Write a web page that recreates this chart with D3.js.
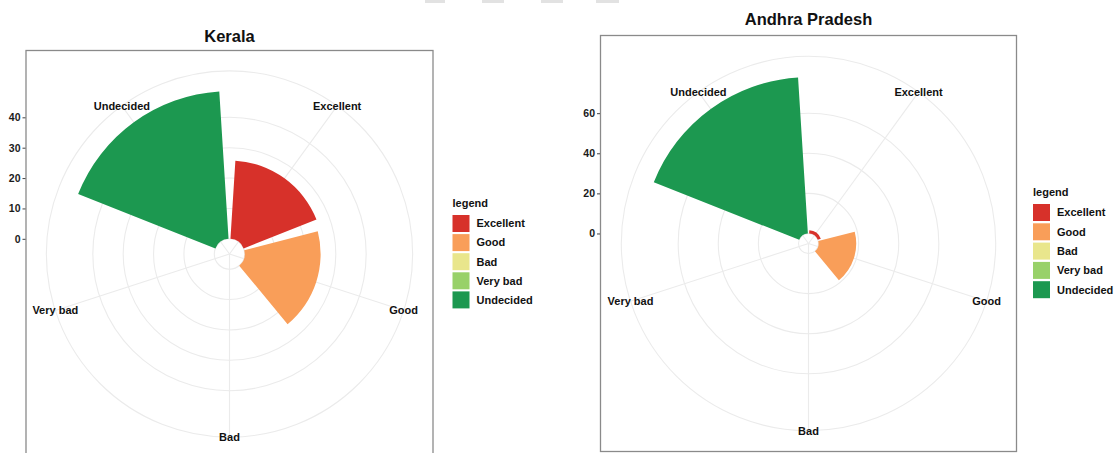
<!DOCTYPE html>
<html>
<head>
<meta charset="utf-8">
<script src="https://cdn.jsdelivr.net/npm/d3@7"></script>
<style>
body { margin: 0; background: #fff; }
svg { display: block; font-family: "Liberation Sans", Arial, sans-serif; }
.axis text { font-weight: bold; font-size: 10.5px; fill: #1a1a1a; }
.axis line { stroke: #444; }
</style>
</head>
<body>
<svg id="chart" width="1116" height="453"></svg>
<script>
"use strict";

var categories = ["Excellent", "Good", "Bad", "Very bad", "Undecided"];
var colors = ["#d7312a", "#f99e59", "#e9e68c", "#98d169", "#1c9850"];
var keralaValues = [25.8, 25.0, 0, 0, 48.6];
var andhraValues = [1.6, 18.8, 0, 0, 78.0];
var keralaTicks = [0, 10, 20, 30, 40];
var andhraTicks = [0, 20, 40, 60];

var svg = d3.select("#chart");

// faint screenshot remains along the top edge
[[425, 20], [482, 22], [541, 22], [596, 23]].forEach(function (m) {
    svg.append("rect").attr("x", m[0]).attr("y", 0).attr("width", m[1]).attr("height", 3)
        .attr("fill", "#e2e2e2");
});

function drawPanel(cfg) {
    var g = svg.append("g");
    var cx = cfg.left + cfg.size / 2;
    var cy = cfg.top + cfg.size / 2;
    var theta = d3.scaleBand().domain(categories)
        .range([0, 2 * Math.PI]).paddingInner(0.1).paddingOuter(0.05);
    var r = d3.scaleLinear().domain([-5, d3.max(cfg.values)]).range([0, 0.4 * cfg.size]);
    var outer = 0.45 * cfg.size;
    var mid = function (c) { return theta(c) + theta.bandwidth() / 2; };

    g.append("text")
        .attr("x", cx).attr("y", cfg.titleY)
        .attr("text-anchor", "middle")
        .style("font-size", "16.5px").style("font-weight", "bold").style("fill", "#111")
        .text(cfg.title);

    var plot = g.append("g").attr("transform", "translate(" + cx + "," + cy + ")");

    // grid: circles at the breaks plus the outer ring, spokes at each category
    plot.selectAll("circle.grid")
        .data(cfg.ticks.map(r).concat([outer]))
        .enter().append("circle")
        .attr("class", "grid")
        .attr("r", function (d) { return d; })
        .attr("fill", "none").attr("stroke", "#ebebeb").attr("stroke-width", 1.1);
    plot.selectAll("line.spoke")
        .data(categories)
        .enter().append("line")
        .attr("class", "spoke")
        .attr("x2", function (c) { return outer * Math.sin(mid(c)); })
        .attr("y2", function (c) { return -outer * Math.cos(mid(c)); })
        .attr("stroke", "#ebebeb").attr("stroke-width", 1.1);

    var arc = d3.arc();
    plot.selectAll("path.bar")
        .data(categories.filter(function (c, i) { return cfg.values[i] > 0; }))
        .enter().append("path")
        .attr("class", "bar")
        .attr("fill", function (c) { return colors[categories.indexOf(c)]; })
        .attr("d", function (c) {
            return arc({
                innerRadius: r(0),
                outerRadius: r(cfg.values[categories.indexOf(c)]),
                startAngle: theta(c),
                endAngle: theta(c) + theta.bandwidth()
            });
        });

    plot.selectAll("text.cat")
        .data(categories)
        .enter().append("text")
        .attr("class", "cat")
        .attr("x", function (c) { return outer * Math.sin(mid(c)); })
        .attr("y", function (c) { return -outer * Math.cos(mid(c)); })
        .attr("text-anchor", "middle").attr("dy", "0.35em")
        .style("font-size", "11px").style("font-weight", "bold").style("fill", "#111")
        .text(function (c) { return c; });

    g.append("rect")
        .attr("x", cfg.left).attr("y", cfg.top)
        .attr("width", cfg.size).attr("height", cfg.size)
        .attr("fill", "none").attr("stroke", "#8a8a8a").attr("stroke-width", 1.3);

    var yAxisScale = d3.scaleLinear().domain(r.domain()).range([cy, cy - 0.4 * cfg.size]);
    g.append("g")
        .attr("class", "axis")
        .attr("transform", "translate(" + (cfg.left - 0.5) + ",0)")
        .call(d3.axisLeft(yAxisScale).tickValues(cfg.ticks).tickSize(3).tickPadding(2))
        .call(function (a) { a.select(".domain").remove(); });

    // legend
    var lg = svg.append("g").attr("transform", "translate(" + cfg.legendX + "," + cfg.legendY + ")");
    lg.append("text").attr("y", 0)
        .style("font-size", "11px").style("font-weight", "bold").style("fill", "#111")
        .text("legend");
    var item = lg.selectAll("g.item")
        .data(categories)
        .enter().append("g")
        .attr("class", "item")
        .attr("transform", function (c, i) { return "translate(0," + (8 + i * cfg.legendStep) + ")"; });
    item.append("rect")
        .attr("width", 17).attr("height", 17)
        .attr("fill", function (c, i) { return colors[i]; });
    item.append("text")
        .attr("x", 24).attr("y", 8.5).attr("dy", "0.35em")
        .style("font-size", "11px").style("font-weight", "bold").style("fill", "#111")
        .text(function (c) { return c; });
}

drawPanel({
    title: "Kerala", values: keralaValues, ticks: keralaTicks,
    left: 26, top: 50.5, size: 407, titleY: 41.5,
    legendX: 452.5, legendY: 207, legendStep: 19.1
});
drawPanel({
    title: "Andhra Pradesh", values: andhraValues, ticks: andhraTicks,
    left: 600.5, top: 35.5, size: 416, titleY: 25,
    legendX: 1033, legendY: 196, legendStep: 19.3
});
</script>
</body>
</html>
